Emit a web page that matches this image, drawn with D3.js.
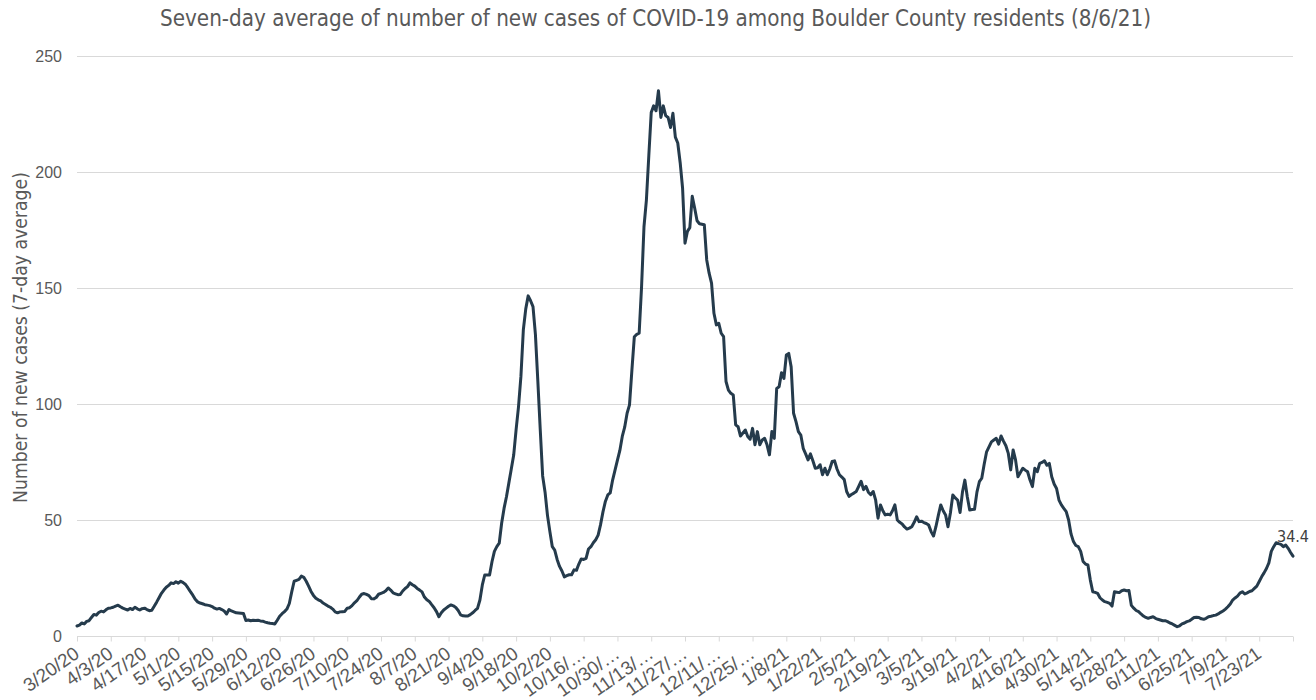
<!DOCTYPE html>
<html><head><meta charset="utf-8">
<script src="https://cdn.jsdelivr.net/npm/d3@7"></script>
<style>
body{margin:0;background:#fff;}
svg{display:block;font-family:"DejaVu Sans Condensed","DejaVu Sans",sans-serif;font-stretch:condensed;}
</style></head><body>
<svg id="chart" width="1316" height="700"></svg>
<script>
const titleText = "Seven-day average of number of new cases of COVID-19 among Boulder County residents (8/6/21)";
const yAxisTitle = "Number of new cases (7-day average)";
const startDate = "3/20/20";
const tickStepDays = 14;
const yTicks = [0, 50, 100, 150, 200, 250];
const xTickLabels = ["3/20/20","4/3/20","4/17/20","5/1/20","5/15/20","5/29/20","6/12/20","6/26/20","7/10/20","7/24/20","8/7/20","8/21/20","9/4/20","9/18/20","10/2/20","10/16/…","10/30/…","11/13/…","11/27/…","12/11/…","12/25/…","1/8/21","1/22/21","2/5/21","2/19/21","3/5/21","3/19/21","4/2/21","4/16/21","4/30/21","5/14/21","5/28/21","6/11/21","6/25/21","7/9/21","7/23/21"];
// daily 7-day average, starting 3/20/20 and ending 8/6/21
const cases = [
4.3,4.7,5.6,5.2,6.3,6.6,8.0,
9.3,9.0,10.1,10.7,10.4,11.3,12.0,
12.1,12.4,12.9,13.3,12.6,12.0,11.6,
11.2,11.9,11.4,12.4,11.7,11.2,11.8,
12.0,11.4,10.9,11.1,12.8,14.6,16.5,
18.4,19.8,21.0,21.8,22.9,22.6,23.4,
22.8,23.6,23.0,22.2,20.7,19.1,17.6,
15.8,14.7,14.2,13.9,13.5,13.3,13.1,
12.7,12.0,11.6,11.9,11.4,10.8,9.5,
11.4,10.8,10.4,10.0,9.9,9.8,9.7,
6.7,6.9,6.6,6.8,6.7,6.8,6.5,
6.4,6.0,5.7,5.5,5.4,5.2,6.8,
8.5,9.6,10.5,11.6,14.0,19.0,23.6,
24.0,24.4,25.8,25.3,23.6,21.5,19.2,
17.5,16.3,15.6,15.1,14.2,13.6,12.9,
12.4,11.6,10.4,10.0,10.4,10.5,10.6,
12.0,12.2,13.1,14.3,15.2,16.7,18.0,
18.3,17.9,17.4,16.1,16.0,16.6,18.0,
18.4,18.8,19.5,20.7,19.8,18.6,18.2,
17.8,17.9,19.4,20.5,21.3,22.9,22.1,
21.5,20.5,19.8,19.0,16.8,15.6,14.9,
13.5,12.2,10.5,8.3,10.0,11.2,12.0,
12.8,13.4,13.0,12.3,11.0,9.1,8.7,
8.6,8.6,9.2,10.0,11.0,11.9,15.5,
22.0,26.3,26.3,26.3,32.0,36.5,38.5,
40.0,48.6,55.0,60.0,66.0,72.0,78.0,
89.0,98.9,112.0,132.0,141.0,146.6,144.5,
142.0,130.0,110.0,89.0,69.0,62.0,52.0,
45.0,38.5,37.0,33.0,30.0,28.0,25.5,
26.0,26.4,26.4,28.5,28.3,31.0,33.2,
33.0,33.5,37.5,38.5,40.2,41.5,43.5,
48.0,53.5,58.0,60.8,61.7,67.2,71.5,
75.8,80.0,86.0,90.0,96.0,99.6,114.7,
129.0,130.0,130.5,150.6,176.4,187.9,207.0,
225.6,228.5,226.4,235.0,223.5,228.5,224.3,
223.5,219.2,225.3,215.0,212.5,204.0,193.0,
169.3,174.4,176.0,189.5,184.5,179.0,177.7,
177.5,177.3,162.1,156.4,152.1,139.1,134.1,
134.8,130.5,129.0,109.7,106.0,104.6,103.9,
91.0,90.2,86.2,87.5,88.8,86.0,84.8,
89.5,82.4,88.1,82.4,84.5,85.2,82.4,
78.1,88.1,85.2,106.7,107.4,113.5,111.0,
121.1,121.8,116.0,96.0,92.4,88.1,86.6,
80.9,78.5,75.9,78.5,75.5,72.3,72.5,
73.8,69.5,72.3,69.5,72.0,75.2,75.5,
72.0,69.5,68.5,67.4,62.3,60.2,61.0,
61.6,62.3,64.5,66.7,63.1,64.5,62.0,
60.9,62.3,58.7,50.8,56.5,54.0,52.2,
52.5,52.2,54.0,56.5,50.0,49.0,48.3,
47.0,46.1,46.5,47.1,49.0,51.4,49.3,
49.5,48.9,48.5,47.8,45.0,43.1,47.1,
52.0,56.5,54.0,52.2,47.1,53.0,60.8,
59.5,58.6,53.2,62.0,67.2,60.0,54.3,
54.5,54.6,62.0,66.5,68.0,74.0,79.4,
81.5,83.7,84.5,85.2,82.7,86.2,84.0,
82.0,78.7,71.6,80.2,75.9,68.6,70.5,
72.3,71.5,70.8,67.2,64.4,72.3,70.8,
74.4,74.8,75.5,73.6,74.4,68.6,65.5,
63.6,58.6,56.5,55.0,53.6,50.0,44.0,
40.7,39.0,38.5,36.5,32.1,31.0,30.6,
24.1,19.1,18.8,18.4,16.5,15.5,14.8,
14.5,14.1,12.9,19.1,18.9,18.7,19.5,
19.8,19.5,19.6,13.2,12.0,11.0,10.5,
9.5,8.6,8.0,7.6,8.0,8.3,7.6,
7.2,6.9,6.6,6.6,6.2,5.6,5.2,
4.6,4.0,4.4,5.2,5.6,6.2,6.5,
7.2,8.0,8.1,8.0,7.4,7.2,7.6,
8.3,8.5,8.8,9.0,9.5,10.2,10.8,
11.6,12.6,13.8,15.5,16.4,17.2,18.5,
19.1,18.1,18.6,19.2,19.5,20.5,21.5,
23.5,25.5,27.2,29.1,31.5,36.5,38.5,
40.2,39.8,39.5,38.5,39.2,37.8,36.0,
34.4
];

const svg = d3.select("#chart");
const W = 1316, H = 700;
const m = {left: 77, right: 23, top: 56, bottom: 64};
const x = d3.scaleLinear().domain([0, cases.length - 1]).range([m.left, W - m.right]);
const y = d3.scaleLinear().domain([0, 250]).range([H - m.bottom, m.top]);
const grey = "#595959", gridC = "#d9d9d9";

function fitWidth(sel, target) {
  const w = sel.node().getComputedTextLength();
  const fs = parseFloat(sel.attr("font-size"));
  sel.attr("font-size", (fs * target / w).toFixed(2));
}

// gridlines
svg.append("g").selectAll("line").data(yTicks.filter(d => d > 0)).join("line")
  .attr("x1", m.left).attr("x2", W - m.right)
  .attr("y1", d => y(d) + 0.5).attr("y2", d => y(d) + 0.5)
  .attr("stroke", gridC).attr("stroke-width", 1);

// y axis labels
const yAxis = d3.axisLeft(y).tickValues(yTicks).tickSize(0).tickPadding(15);
const gy = svg.append("g").attr("transform", `translate(${m.left},0)`).call(yAxis);
gy.select(".domain").remove();
gy.selectAll("text").attr("fill", grey).attr("font-size", 16).attr("font-family", null);

// x axis
const tickVals = d3.range(0, cases.length, tickStepDays);
const xAxis = d3.axisBottom(x).tickValues(tickVals).tickSize(5).tickPadding(0)
  .tickFormat((d, i) => xTickLabels[i] || "");
const gx = svg.append("g").attr("transform", `translate(0,${y(0) + 0.5})`).call(xAxis);
gx.select(".domain").attr("stroke", gridC).attr("d", `M${m.left},0H${W - m.right}`);
gx.selectAll(".tick line").attr("stroke", gridC);
const xt = gx.selectAll("text").attr("fill", grey).attr("font-size", 16).attr("font-family", null)
  .attr("text-anchor", "end").attr("y", 0).attr("dy", 0)
  .attr("transform", "translate(3,20) rotate(-35)");
// size tick labels so that "9/18/20" is ~63px long
const ref = xt.filter((d, i) => xTickLabels[i] === "9/18/20");
const refW = ref.node().getComputedTextLength();
xt.attr("font-size", (16 * 63 / refW).toFixed(2));

// line
svg.append("path").datum(cases)
  .attr("fill", "none").attr("stroke", "#253b4c").attr("stroke-width", 3)
  .attr("stroke-linejoin", "round").attr("stroke-linecap", "round")
  .attr("d", d3.line().x((d, i) => x(i)).y(d => y(d)));

// last value label
const lastI = cases.length - 1;
svg.append("text").attr("x", x(lastI)).attr("y", y(cases[lastI]) - 14)
  .attr("text-anchor", "middle").attr("fill", "#404040").attr("font-size", 16)
  .text(cases[lastI].toFixed(1));

// title
const t = svg.append("text").attr("x", 655.5).attr("y", 26).attr("text-anchor", "middle")
  .attr("fill", grey).attr("font-size", 20).text(titleText);
fitWidth(t, 991);

// y axis title
const yt = svg.append("text").attr("transform", "translate(27,337.5) rotate(-90)")
  .attr("text-anchor", "middle").attr("fill", grey).attr("font-size", 17).text(yAxisTitle);
fitWidth(yt, 331);
</script>
</body></html>
